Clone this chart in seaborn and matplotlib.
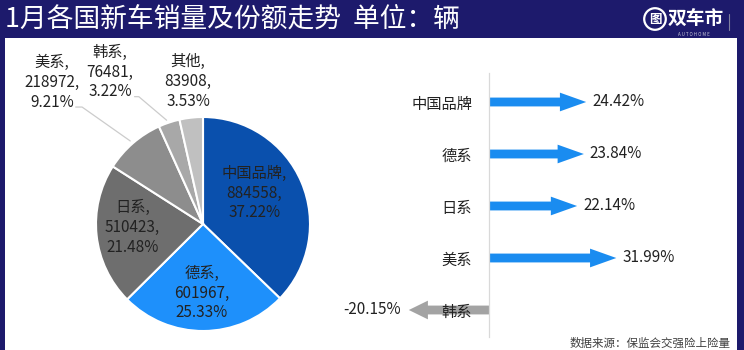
import matplotlib
matplotlib.use("Agg")
import matplotlib.pyplot as plt
from matplotlib.patches import FancyArrow, Rectangle, Circle
import seaborn as sns

# ---------------- data ----------------
pie_labels = ["中国品牌", "德系", "日系", "美系", "韩系", "其他"]
pie_counts = [884558, 601967, 510423, 218972, 76481, 83908]
pie_shares = ["37.22%", "25.33%", "21.48%", "9.21%", "3.22%", "3.53%"]

growth_cats = ["中国品牌", "德系", "日系", "美系", "韩系"]
growth_vals = [24.42, 23.84, 22.14, 31.99, -20.15]

title = "1月各国新车销量及份额走势  单位：辆"
source = "数据来源：保监会交强险上险量"

# ---------------- style ----------------
sns.set_theme(style="white")
plt.rcParams["font.family"] = ["Noto Sans CJK SC", "DejaVu Sans"]

NAVY = "#1d1a6c"
pie_colors = ["#0a50ad", "#1e90fb", "#6e6e6e", "#8d8d8d", "#a8a8a8", "#c0c0c0"]
TXT = "#222222"

W, H = 744, 350
fig = plt.figure(figsize=(W / 100, H / 100), dpi=100)
fig.patch.set_facecolor(NAVY)

def fx(px):
    return px / W

def fy(py_top):
    return 1 - py_top / H

# white content panel
fig.patches.append(Rectangle((fx(5), 0), fx(732), fy(38), transform=fig.transFigure,
                             facecolor="white", edgecolor="none", zorder=-5))

# title
fig.text(fx(5), fy(19), title, color="white", fontsize=19.3, va="center", ha="left")

# logo
logo_ax = fig.add_axes([fx(643), fy(31), fx(24), 24 / H])
logo_ax.set_xlim(-1, 1); logo_ax.set_ylim(-1, 1); logo_ax.set_aspect("equal"); logo_ax.axis("off")
logo_ax.add_patch(Circle((0, 0), 0.9, facecolor="none", edgecolor="white", lw=1.6))
logo_ax.text(0, -0.02, "图", color="white", fontsize=9, fontweight="bold", ha="center", va="center")
fig.text(fx(668), fy(19), "双车市", color="white", fontsize=13.5, fontweight="bold",
         style="italic", ha="left", va="center")
fig.text(fx(694), fy(34), "A U T O H O M E", color="#c8c8d8", fontsize=3.2, ha="center", va="center")
fig.add_artist(plt.Line2D([fx(729), fx(729)], [fy(14), fy(30)], color="#8080a0", lw=0.8))

# ---------------- pie ----------------
cx, cy, R = 203, 224, 107
pax = fig.add_axes([fx(cx - R), fy(cy + R), fx(2 * R), 2 * R / H])
pax.set_facecolor("none")
pax.pie(pie_counts, colors=pie_colors, startangle=90, counterclock=False, radius=1,
        wedgeprops=dict(edgecolor="white", linewidth=1.5))
pax.set_xlim(-1, 1); pax.set_ylim(-1, 1); pax.set_aspect("equal"); pax.axis("off")

label_pos = [(0.48, 0.29), (-0.01, -0.645), (-0.66, -0.03),
             (-1.41, 1.32), (-0.87, 1.42), (-0.14, 1.33)]
for name, cnt, sh, (lx, ly) in zip(pie_labels, pie_counts, pie_shares, label_pos):
    pax.text(lx, ly, f"{name},\n{cnt},\n{sh}", ha="center", va="center", fontsize=11,
             color=TXT, linespacing=1.22, clip_on=False)

leader_style = dict(color="#cccccc", lw=0.9, clip_on=False)
pax.plot([-1.19, -1.13, -0.68], [1.093, 1.093, 0.776], **leader_style)
pax.plot([-0.64, -0.60, -0.34], [1.19, 1.19, 0.97], **leader_style)

# ---------------- growth arrows ----------------
px_per = 3.98
x0 = 489
row0, step = 102, 52
aL, aR, aT, aB = 360, 700, 60, 340
aax = fig.add_axes([fx(aL), fy(aB), fx(aR - aL), (aB - aT) / H])
aax.set_xlim((aL - x0) / px_per, (aR - x0) / px_per)
aax.set_ylim((aB - row0) / step, (aT - row0) / step)
aax.set_facecolor("none")
aax.set_axisbelow(False)
sns.despine(ax=aax, left=False, bottom=True)
aax.spines["left"].set_position(("data", 0))
aax.spines["left"].set_bounds((337 - row0) / step, (73 - row0) / step)
aax.spines["left"].set_color("#d9d9d9")
aax.spines["left"].set_linewidth(0.9)
aax.set_xticks([])
aax.set_yticks(range(len(growth_cats)))
aax.set_yticklabels(growth_cats, fontsize=11, color=TXT)
aax.tick_params(axis="y", length=0, pad=12.2)
aax.grid(False)

for i, v in enumerate(growth_vals):
    if v >= 0:
        col, hl = "#1a8cf0", 6.6
    else:
        col, hl = "#a3a3a3", 4.8
    aax.add_patch(FancyArrow(0, i, v, 0, width=0.17, head_width=0.36, head_length=hl,
                             length_includes_head=True, color=col, lw=0, zorder=1.2))
    if v >= 0:
        aax.text(v + 1.5, i, f"{v:.2f}%", ha="left", va="center", fontsize=11, color=TXT, zorder=3)
    else:
        aax.text(v - 2.0, i, f"{v:.2f}%", ha="right", va="center", fontsize=11, color=TXT, zorder=3)

# source note
fig.text(fx(731), fy(343), source, ha="right", va="center", fontsize=8.3, color="#404040")

fig.savefig("out.png", dpi=100, facecolor=fig.get_facecolor())
